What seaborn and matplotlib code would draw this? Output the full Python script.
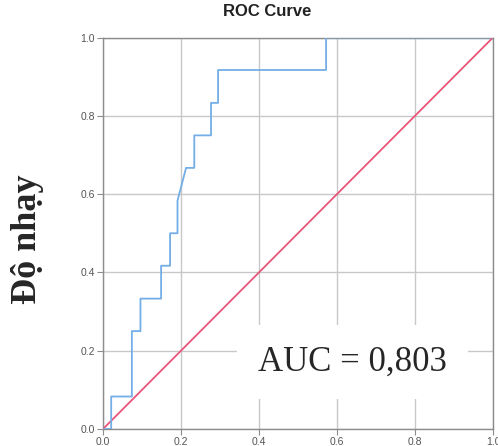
import matplotlib
matplotlib.use("Agg")
import matplotlib.pyplot as plt
import seaborn as sns
import pandas as pd

# ROC curve vertices
fpr = [0.0, 0.021, 0.021, 0.074, 0.074, 0.096, 0.096, 0.149, 0.149, 0.172, 0.172,
       0.191, 0.191, 0.213, 0.234, 0.234, 0.277, 0.277, 0.295, 0.295, 0.572, 0.572, 1.0]
tpr = [0.0, 0.0, 0.083, 0.083, 0.25, 0.25, 0.333, 0.333, 0.417, 0.417, 0.5,
       0.5, 0.583, 0.667, 0.667, 0.75, 0.75, 0.833, 0.833, 0.917, 0.917, 1.0, 1.0]
ref_x = [0.0, 1.0]
ref_y = [0.0, 1.0]
ticks = [0.0, 0.2, 0.4, 0.6, 0.8, 1.0]
tick_labels = ['0.0', '0.2', '0.4', '0.6', '0.8', '1.0']
title = 'ROC Curve'
ylabel = 'Độ nhạy'
auc_text = 'AUC = 0,803'

sns.set_theme(style='whitegrid', rc={'grid.color': '#c8c8c8', 'grid.linewidth': 1.0,
                                     'axes.edgecolor': '#8c8c8c', 'axes.linewidth': 1.0})
plt.rcParams['font.family'] = ['Liberation Sans', 'DejaVu Sans']

fig = plt.figure(figsize=(4.98, 4.46), dpi=100)
ax = fig.add_axes([103 / 498, 17 / 446, 390 / 498, 391.5 / 446])

roc = pd.DataFrame({'fpr': fpr, 'tpr': tpr})
ref = pd.DataFrame({'x': ref_x, 'y': ref_y})
sns.lineplot(data=ref, x='x', y='y', ax=ax, color='#e8557a', linewidth=1.3, sort=False, zorder=3)
sns.lineplot(data=roc, x='fpr', y='tpr', ax=ax, color='#74aee6', linewidth=1.3,
             sort=False, estimator=None, zorder=4)

ax.set_xlim(0, 1)
ax.set_ylim(0, 1)
ax.set_xticks(ticks)
ax.set_yticks(ticks)
ax.set_xticklabels(tick_labels)
ax.set_yticklabels(tick_labels)
ax.tick_params(axis='both', labelsize=7.5, colors='#8c8c8c', labelcolor='#555555',
               length=4, width=0.8, left=True, bottom=True, pad=2)
ax.set_xlabel('')
ax.set_ylabel('')
ax.grid(True, zorder=0)

# AUC annotation on a white box that hides the grid behind it
ax.text((258 - 103) / 390, (429 - 362) / 391.5, auc_text,
        family=['Liberation Serif', 'DejaVu Serif'], fontsize=25, va='center', ha='left',
        transform=ax.transAxes, zorder=5,
        bbox=dict(boxstyle='square,pad=0.6', facecolor='white', edgecolor='none'))

fig.text(267.5 / 498, 1 - 12 / 446, title, fontsize=12, fontweight='bold',
         ha='center', va='center', color='#222222')
fig.text(27 / 498, 1 - 239 / 446, ylabel, family=['Liberation Serif', 'DejaVu Serif'],
         fontsize=26, fontweight='bold', rotation=90, ha='center', va='center')

fig.savefig('out.png', dpi=100, facecolor='white')
